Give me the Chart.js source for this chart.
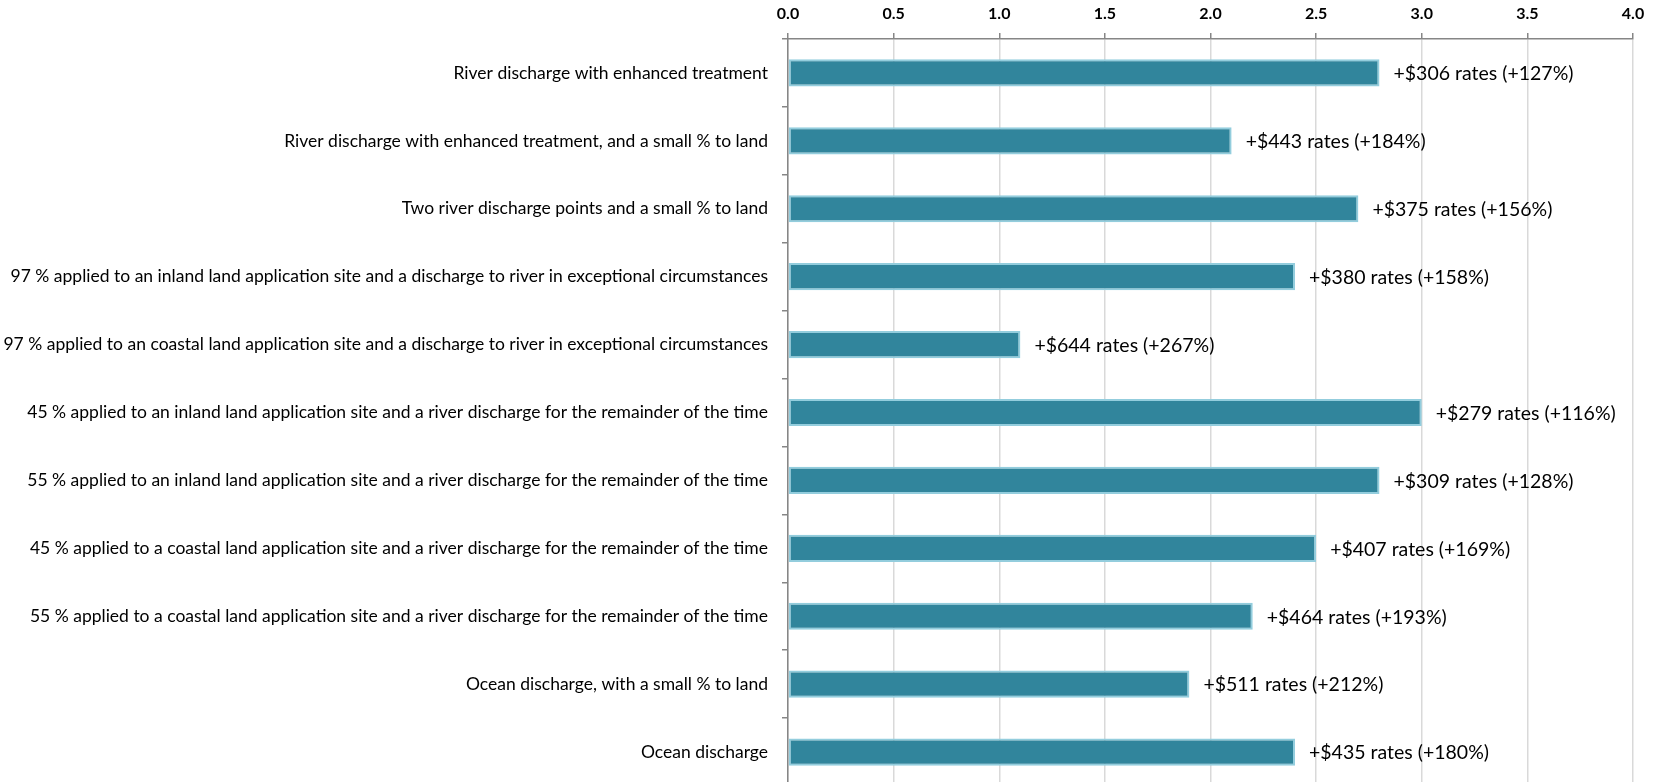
<!DOCTYPE html>
<html>
<head>
<meta charset="utf-8">
<script src="https://cdn.jsdelivr.net/npm/chart.js@4/dist/chart.umd.min.js"></script>
<style>
  html, body { margin: 0; padding: 0; background: #fff; overflow: hidden; }
  #wrap { width: 1663px; height: 786px; position: relative; }
</style>
</head>
<body>
<div id="wrap"><canvas id="chart"></canvas></div>
<script>
const categories = [
  'River discharge with enhanced treatment',
  'River discharge with enhanced treatment, and a small % to land',
  'Two river discharge points and a small % to land',
  '97 % applied to an inland land application site and a discharge to river in exceptional circumstances',
  '97 % applied to an coastal land application site and a discharge to river in exceptional circumstances',
  '45 % applied to an inland land application site and a river discharge for the remainder of the time',
  '55 % applied to an inland land application site and a river discharge for the remainder of the time',
  '45 % applied to a coastal land application site and a river discharge for the remainder of the time',
  '55 % applied to a coastal land application site and a river discharge for the remainder of the time',
  'Ocean discharge, with a small % to land',
  'Ocean discharge'
]
const values = [2.8, 2.1, 2.7, 2.4, 1.1, 3.0, 2.8, 2.5, 2.2, 1.9, 2.4]
const rateLabels = [
  '+$306 rates (+127%)',
  '+$443 rates (+184%)',
  '+$375 rates (+156%)',
  '+$380 rates (+158%)',
  '+$644 rates (+267%)',
  '+$279 rates (+116%)',
  '+$309 rates (+128%)',
  '+$407 rates (+169%)',
  '+$464 rates (+193%)',
  '+$511 rates (+212%)',
  '+$435 rates (+180%)'
]
const xMin = 0
const xMax = 4
const xStep = 0.5

const font = 'Lato, "Open Sans", sans-serif'

// text next to each bar end
const barText = {
  id: 'barText',
  afterDatasetsDraw(chart) {
    const ctx = chart.ctx
    const meta = chart.getDatasetMeta(0)
    ctx.save()
    ctx.font = '19.5px ' + font
    ctx.fillStyle = '#000'
    ctx.textBaseline = 'middle'
    ctx.textAlign = 'left'
    meta.data.forEach((bar, i) => {
      ctx.fillText(rateLabels[i], bar.x + 14, bar.y + 1)
    })
    ctx.restore()
  }
}

const ctx = document.getElementById('chart').getContext('2d')
new Chart(ctx, {
  type: 'bar',
  data: {
    labels: categories,
    datasets: [{
      data: values,
      backgroundColor: '#31859c',
      borderColor: '#93cddd',
      borderWidth: 2,
      borderSkipped: false,
      barPercentage: 0.4,
      categoryPercentage: 1
    }]
  },
  options: {
    indexAxis: 'y',
    responsive: true,
    maintainAspectRatio: false,
    animation: false,
    layout: { padding: { left: 0, right: 30, top: 0, bottom: 0 } },
    plugins: {
      legend: { display: false },
      tooltip: { enabled: false }
    },
    scales: {
      x: {
        position: 'top',
        min: xMin,
        max: xMax,
        afterFit: (scale) => { scale.height = 39 },
        ticks: {
          stepSize: xStep,
          padding: 10,
          color: '#000',
          font: { family: font, size: 16, weight: 'bold' },
          callback: (v) => Number(v).toFixed(1)
        },
        grid: {
          color: '#d9d9d9',
          lineWidth: 1.5,
          drawTicks: true,
          tickLength: 6,
          tickColor: '#868686'
        },
        border: { color: '#868686', width: 1.5 }
      },
      y: {
        afterFit: (scale) => {
          scale.width = 788
          scale.paddingTop = 0
          scale.paddingBottom = 0
        },
        ticks: {
          padding: 14,
          color: '#000',
          font: { family: font, size: 17.5 },
          autoSkip: false
        },
        grid: {
          drawOnChartArea: false,
          drawTicks: true,
          tickLength: 6,
          offset: true,
          tickColor: '#868686',
          lineWidth: 1.5
        },
        border: { color: '#868686', width: 1.5 }
      }
    }
  },
  plugins: [barText]
})
</script>
</body>
</html>
